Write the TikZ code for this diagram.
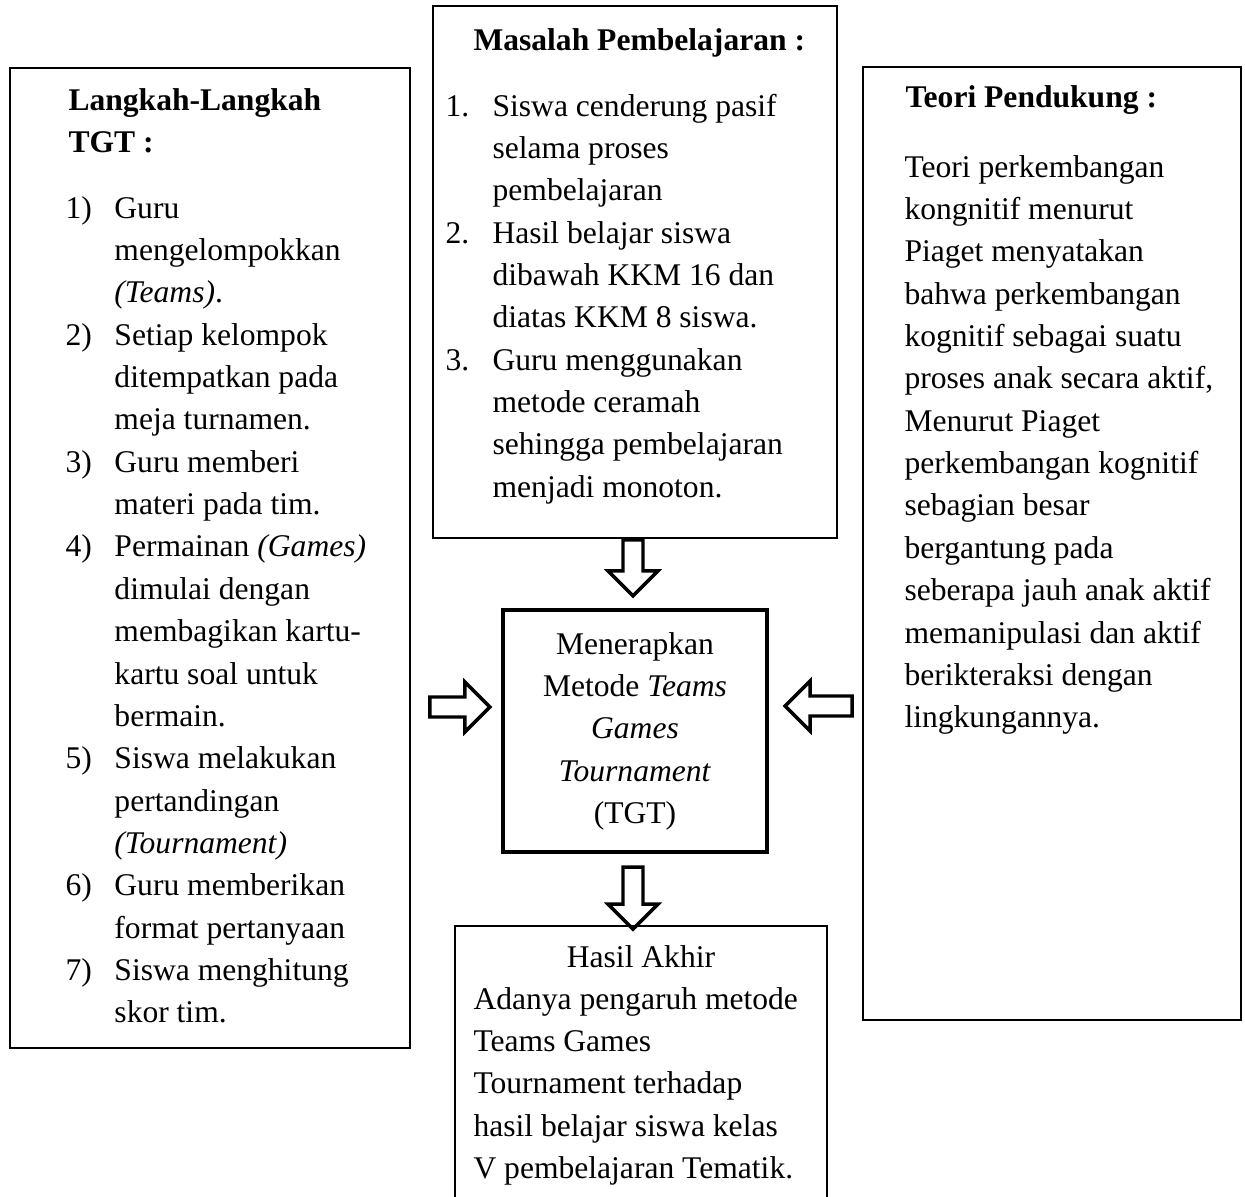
\documentclass[tikz,border=0pt]{standalone}
\usepackage{fontspec}
\setmainfont{Liberation Serif}
\usetikzlibrary{calc,fit}
\tikzset{
	kotak/.style={draw,inner sep=0pt,line width=.6pt},
	teks/.style={inner sep=0pt,anchor=base west,font=\fontsize{12}{16.1}\selectfont},
	pics/panah/.style={code={
			\draw[line width=1.3pt] (0,0)--(-25,25)--(-25,10)--(-#1,10)--(-#1,-10)--(-25,-10)--(-25,-25)--cycle;}}
}
\begin{document}
\begin{tikzpicture}[x=.38pt,y=-.38pt]
			\def\daftar#1#2{\begin{tabular}[t]{@{}p{#1}@{}l@{}}#2\end{tabular}}
			\def\baris#1{\begin{tabular}[t]{@{}l@{}}#1\end{tabular}}
			\useasboundingbox (0,0) rectangle (1245,1196);
			%===========================================
			\node[kotak,fit={(10,68) (410,1048)}] (langkah) {};
			\node[kotak,fit={(433,6) (837,538)}] (masalah) {};
			\node[kotak,fit={(863,67) (1241,1020)}] (teori) {};
			\node[kotak,line width=1.6pt,fit={(503,610) (767,852)}] (tgt) {};
			\node[kotak,fit={(455,926) (827,1220)}] (hasil) {};
			%===========================================
			\node[teks] (langkahjudul) at (68,110) {\baris{\textbf{Langkah-Langkah}\\\textbf{TGT :}}};
			\node[teks] (langkahisi) at (65,218) {\daftar{18.6pt}{%
					1) & Guru\\
					& mengelompokkan\\
					& \textit{(Teams)}.\\
					2) & Setiap kelompok\\
					& ditempatkan pada\\
					& meja turnamen.\\
					3) & Guru memberi\\
					& materi pada tim.\\
					4) & Permainan \textit{(Games)}\\
					& dimulai dengan\\
					& membagikan kartu-\\
					& kartu soal untuk\\
					& bermain.\\
					5) & Siswa melakukan\\
					& pertandingan\\
					& \textit{(Tournament)}\\
					6) & Guru memberikan\\
					& format pertanyaan\\
					7) & Siswa menghitung\\
					& skor tim.}};
			\node[teks] (masalahjudul) at (473,50) {\textbf{Masalah Pembelajaran :}};
			\node[teks] (masalahisi) at (445,116) {\daftar{17.9pt}{%
					1. & Siswa cenderung pasif\\
					& selama proses\\
					& pembelajaran\\
					2. & Hasil belajar siswa\\
					& dibawah KKM 16 dan\\
					& diatas KKM 8 siswa.\\
					3. & Guru menggunakan\\
					& metode ceramah\\
					& sehingga pembelajaran\\
					& menjadi monoton.}};
			\node[teks] (teorijudul) at (905,107) {\textbf{Teori Pendukung :}};
			\node[teks] (teoriisi) at (904,177) {\baris{Teori perkembangan\\
					kongnitif menurut\\
					Piaget menyatakan\\
					bahwa perkembangan\\
					kognitif sebagai suatu\\
					proses anak secara aktif,\\
					Menurut Piaget\\
					perkembangan kognitif\\
					sebagian besar\\
					bergantung pada\\
					seberapa jauh anak aktif\\
					memanipulasi dan aktif\\
					berikteraksi dengan\\
					lingkungannya.}};
			\node[teks,anchor=base] (tgtisi) at (635,654) {\begin{tabular}[t]{@{}c@{}}Menerapkan\\
					Metode \textit{Teams}\\
					\textit{Games}\\
					\textit{Tournament}\\
					(TGT)\end{tabular}};
			\node[teks,anchor=base] (hasiljudul) at (641,967) {Hasil Akhir};
			\node[teks] (hasilisi) at (473,1009) {\baris{Adanya pengaruh metode\\
					Teams Games\\
					Tournament terhadap\\
					hasil belajar siswa kelas\\
					V pembelajaran Tematik.}};
			%===========================================
			\coordinate (p1) at ($(tgt.north)+(-2,-12)$);
			\coordinate (p2) at ($(tgt.south)+(-2,75)$);
			\coordinate (p3) at ($(tgt.west)+(-11,-24)$);
			\coordinate (p4) at ($(tgt.east)+(16,-25)$);
			\foreach \p/\arah/\pj in {p1/-90/56,p2/-90/62,p3/0/60,p4/180/67}
			\pic[rotate=\arah] at (\p) {panah=\pj};
	\end{tikzpicture}
\end{document}
